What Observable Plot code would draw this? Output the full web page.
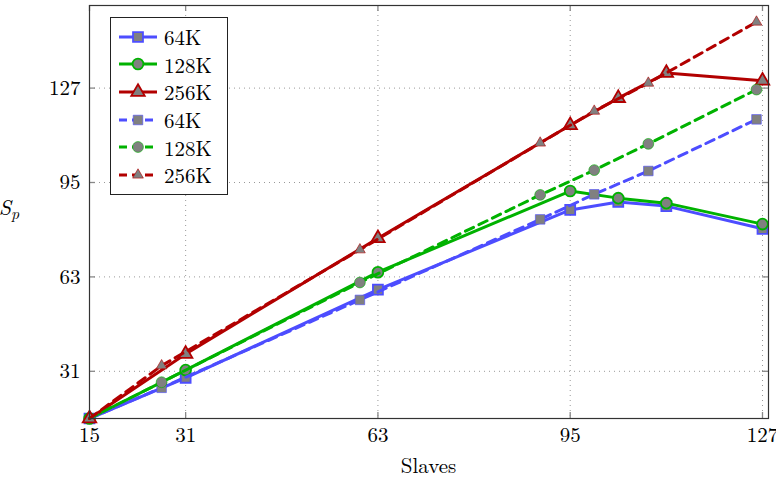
<!DOCTYPE html>
<html><head><meta charset="utf-8">
<script src="https://cdn.jsdelivr.net/npm/d3@7"></script>
<script src="https://cdn.jsdelivr.net/npm/@observablehq/plot@0.6"></script>
<style>
body{margin:0;background:#fff;}
#chart{position:relative;width:776px;height:480px;font-family:"Latin Modern Roman","Liberation Serif","DejaVu Serif",serif;}
.leg{position:absolute;left:110px;top:17px;width:118px;height:178px;box-sizing:border-box;border:1px solid #222;background:#fff;padding-top:5px;}
.row{height:27.6px;display:flex;align-items:center;padding-left:8px;font-size:21px;line-height:1;color:#000;}
.row span{margin-left:5px;line-height:1;}
</style></head><body><div id="chart"></div>
<script>
// ---- data ----
const xTicks = [15, 31, 63, 95, 127];
const yTicks = [31, 63, 95, 127];
const seriesNames = ["64K", "128K", "256K"];
const seriesColors = ["rgb(77,77,255)", "rgb(0,178,0)", "rgb(178,0,0)"];
const seriesSymbols = ["square", "circle", "triangle"];

const measuredX   = [15, 31, 63, 95, 103, 111, 127];
const measured64  = [15, 28.8, 58.7, 85.7, 88.4, 87.0, 79.3];
const measured128 = [15, 31.4, 64.6, 92.1, 89.7, 88.0, 80.9];
const measured256 = [15, 36.9, 76.1, 114.4, 123.6, 132.1, 129.5];

const predictedX   = [15, 27, 60, 90, 99, 108, 126];
const predicted64  = [15, 25.4, 55.2, 82.5, 91.0, 98.9, 116.4];
const predicted128 = [15, 27.3, 61.1, 90.8, 99.2, 108.1, 126.5];
const predicted256 = [15, 32.9, 72.2, 108.4, 119.2, 128.7, 149.4];

// ---- layout ----
const W = 776, H = 480, mL = 89, mR = 8, mT = 5, mB = 62;
const innerW = W - mL - mR, innerH = H - mT - mB;
const fontStack = '"Latin Modern Roman","Liberation Serif","DejaVu Serif",serif';

function rows(xs, ys) { return xs.map((x, i) => ({x, y: ys[i]})); }
const measured = [measured64, measured128, measured256];
const predicted = [predicted64, predicted128, predicted256];
const rSolid = {square: 5.6, circle: 5.4, triangle: 5.0};
const rDash = {square: 5.4, circle: 5.4, triangle: 4.0};

const marks = [
  Plot.gridX(xTicks, {stroke: "#999", strokeOpacity: 1, strokeWidth: 1, strokeDasharray: "1,4"}),
  Plot.gridY(yTicks, {stroke: "#999", strokeOpacity: 1, strokeWidth: 1, strokeDasharray: "1,4"}),
  Plot.tickX(xTicks, {x: d => d, stroke: "#888", strokeWidth: 1.3, insetTop: innerH - 6}),
  Plot.tickX(xTicks, {x: d => d, stroke: "#888", strokeWidth: 1.3, insetBottom: innerH - 6}),
  Plot.tickY(yTicks, {y: d => d, stroke: "#888", strokeWidth: 1.3, insetRight: innerW - 6}),
  Plot.tickY(yTicks, {y: d => d, stroke: "#888", strokeWidth: 1.3, insetLeft: innerW - 6}),
];
measured.forEach((ys, i) => {
  const d = rows(measuredX, ys);
  marks.push(Plot.line(d, {x: "x", y: "y", stroke: seriesColors[i], strokeWidth: 3}));
  marks.push(Plot.dot(d, {x: "x", y: "y", symbol: seriesSymbols[i], r: rSolid[seriesSymbols[i]],
    fill: "#808080", stroke: seriesColors[i], strokeWidth: 1.8}));
});
predicted.forEach((ys, i) => {
  const d = rows(predictedX, ys);
  marks.push(Plot.line(d, {x: "x", y: "y", stroke: seriesColors[i], strokeWidth: 3, strokeDasharray: "9,6"}));
  marks.push(Plot.dot(d.slice(1), {x: "x", y: "y", symbol: seriesSymbols[i], r: rDash[seriesSymbols[i]],
    fill: "#808080", stroke: seriesColors[i], strokeWidth: 1, strokeOpacity: 0.6}));
});
marks.push(Plot.frame({stroke: "#333", strokeWidth: 1.2}));
marks.push(Plot.axisX(xTicks, {anchor: "bottom", tickSize: 0, tickPadding: 9, fontSize: 21, label: null}));
marks.push(Plot.axisY(yTicks, {anchor: "left", tickSize: 0, tickPadding: 9, fontSize: 21, label: null}));

const svg = Plot.plot({
  width: W, height: H,
  marginLeft: mL, marginRight: mR, marginTop: mT, marginBottom: mB,
  x: {domain: [15, 128]},
  y: {domain: [15, 155]},
  style: {fontFamily: fontStack, fontSize: "21px", color: "#000", background: "#fff", overflow: "visible"},
  marks
});
document.getElementById("chart").appendChild(svg);

// axis labels
const s = d3.select(svg);
s.append("text").attr("x", mL + innerW / 2).attr("y", 473).attr("text-anchor", "middle")
  .attr("font-size", 21).attr("font-family", fontStack).text("Slaves");
const yl = s.append("text").attr("x", 9).attr("y", 215).attr("font-size", 22).attr("font-family", fontStack);
yl.append("tspan").attr("font-style", "italic").text("S");
yl.append("tspan").attr("font-style", "italic").attr("font-size", 16).attr("dy", 4).text("p");

// legend
const leg = d3.select("#chart").append("div").attr("class", "leg");
const legendEntries = [];
seriesNames.forEach((n, i) => legendEntries.push({name: n, i, dashed: false}));
seriesNames.forEach((n, i) => legendEntries.push({name: n, i, dashed: true}));
const symMap = {square: d3.symbolSquare, circle: d3.symbolCircle, triangle: d3.symbolTriangle};
legendEntries.forEach(e => {
  const row = leg.append("div").attr("class", "row");
  const sv = row.append("svg").attr("width", 40).attr("height", 22);
  const sym = seriesSymbols[e.i];
  const r = (e.dashed ? rDash : rSolid)[sym];
  sv.append("line").attr("x1", 0).attr("x2", 38).attr("y1", 11).attr("y2", 11)
    .attr("stroke", seriesColors[e.i]).attr("stroke-width", 3)
    .attr("stroke-dasharray", e.dashed ? "8,5" : null);
  sv.append("path").attr("transform", "translate(19,11)")
    .attr("d", d3.symbol(symMap[sym], Math.PI * r * r)())
    .attr("fill", "#808080").attr("stroke", seriesColors[e.i])
    .attr("stroke-width", e.dashed ? 1 : 1.8).attr("stroke-opacity", e.dashed ? 0.6 : 1);
  row.append("span").text(e.name);
});
</script></body></html>
